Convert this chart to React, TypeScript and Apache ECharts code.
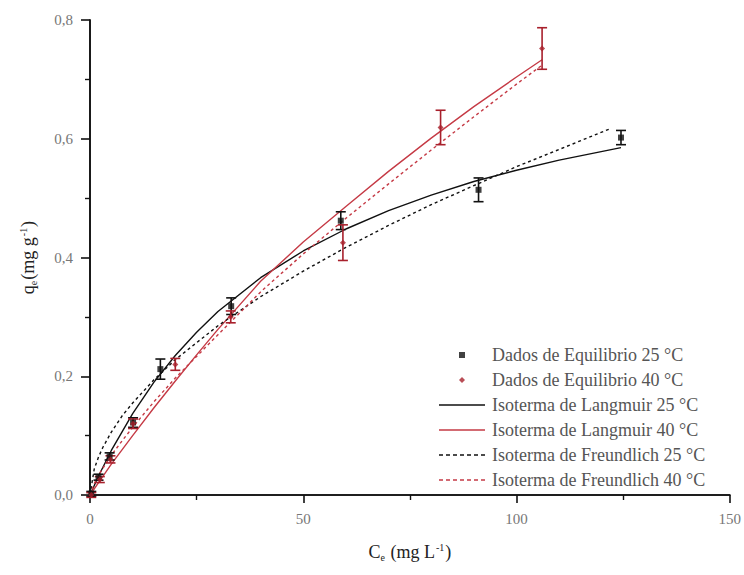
import React, { useEffect, useRef } from "react";
import * as echarts from "echarts";

const DATA_25_X = [0.3, 2, 4.6, 10.1, 16.5, 33.1, 58.8, 91.1, 124.5];
const DATA_25_Y = [0.002, 0.03, 0.065, 0.122, 0.212, 0.318, 0.462, 0.514, 0.602];
const ERR_25 = [0.004, 0.005, 0.006, 0.008, 0.017, 0.014, 0.015, 0.02, 0.012];

const DATA_40_X = [0.3, 2.3, 4.8, 10.1, 20, 33, 59.3, 82.2, 106];
const DATA_40_Y = [0.0, 0.026, 0.06, 0.12, 0.22, 0.3, 0.425, 0.619, 0.752];
const ERR_40 = [0.004, 0.005, 0.006, 0.008, 0.01, 0.01, 0.03, 0.029, 0.035];

// Fitted isotherm curves
const LANGMUIR_25_X = [0, 2, 5, 10, 15, 20, 25, 30, 40, 50, 60, 70, 80, 90, 100, 110, 124.5];
const LANGMUIR_25_Y = [0, 0.032, 0.075, 0.137, 0.19, 0.235, 0.274, 0.309, 0.366, 0.411, 0.448, 0.479, 0.505, 0.528, 0.547, 0.564, 0.585];

const LANGMUIR_40_X = [0, 2, 5, 10, 15, 20, 25, 30, 40, 50, 60, 70, 80, 90, 100, 106];
const LANGMUIR_40_Y = [0, 0.021, 0.052, 0.1, 0.147, 0.192, 0.236, 0.279, 0.36, 0.426, 0.486, 0.545, 0.601, 0.654, 0.704, 0.733];

const FREUNDLICH_25_X = [0, 1, 2, 3, 5, 7.5, 10, 15, 20, 30, 40, 50, 60, 70, 80, 90, 100, 110, 122];
const FREUNDLICH_25_Y = [0, 0.044, 0.064, 0.08, 0.106, 0.133, 0.155, 0.194, 0.228, 0.285, 0.334, 0.377, 0.417, 0.454, 0.489, 0.521, 0.553, 0.582, 0.617];

const FREUNDLICH_40_X = [0, 1, 2, 3, 5, 7.5, 10, 15, 20, 30, 40, 50, 60, 70, 80, 90, 100, 106];
const FREUNDLICH_40_Y = [0, 0.019, 0.033, 0.045, 0.067, 0.091, 0.114, 0.157, 0.197, 0.27, 0.342, 0.406, 0.466, 0.524, 0.581, 0.637, 0.692, 0.724];

const SERIES_NAMES = [
  "Dados de Equilibrio 25 °C",
  "Dados de Equilibrio 40 °C",
  "Isoterma de Langmuir 25 °C",
  "Isoterma de Langmuir 40 °C",
  "Isoterma de Freundlich 25 °C",
  "Isoterma de Freundlich 40 °C",
];

const X_TICKS = [0, 50, 100, 150];
const Y_TICKS = [0, 0.2, 0.4, 0.6, 0.8];

const BLACK = "#111111";
const RED_LINE = "#c53a45";
const RED_MARK = "#a8202c";
const FONT = "'Liberation Serif', 'Times New Roman', serif";

// legend icons (46 x 6 boxes)
const ICON_SQUARE = "path://M0 0M46 6M20 0h6v6h-6z";
const ICON_DIAMOND = "path://M0 0M46 6M23 0L26 3L23 6L20 3Z";
const ICON_SOLID = "path://M0 0M46 6M0 2.3h46v1.4H0z";
const ICON_DASHED =
  "path://M0 0M46 6M0 2.3h4v1.4H0zM7 2.3h4v1.4H7zM14 2.3h4v1.4h-4zM21 2.3h4v1.4h-4zM28 2.3h4v1.4h-4zM35 2.3h4v1.4h-4zM42 2.3h4v1.4h-4z";
const LEGEND_ICONS = [ICON_SQUARE, ICON_DIAMOND, ICON_SOLID, ICON_SOLID, ICON_DASHED, ICON_DASHED];

const zip = (xs: number[], ys: number[]) => xs.map((x, i) => [x, ys[i]]);
const errData = (xs: number[], ys: number[], es: number[]) =>
  xs.map((x, i) => [x, ys[i] - es[i], ys[i] + es[i]]);

const errorBarSeries = (name: string, data: number[][], color: string) => ({
  name,
  type: "custom",
  data,
  z: 4,
  renderItem: (_params: any, api: any) => {
    const x = api.value(0);
    const lo = api.coord([x, api.value(1)]);
    const hi = api.coord([x, api.value(2)]);
    const w = 5;
    const style = { stroke: color, lineWidth: 1.6 };
    return {
      type: "group",
      children: [
        { type: "line", shape: { x1: hi[0], y1: hi[1], x2: lo[0], y2: lo[1] }, style },
        { type: "line", shape: { x1: hi[0] - w, y1: hi[1], x2: hi[0] + w, y2: hi[1] }, style },
        { type: "line", shape: { x1: lo[0] - w, y1: lo[1], x2: lo[0] + w, y2: lo[1] }, style },
      ],
    };
  },
});

const lineSeries = (name: string, xs: number[], ys: number[], color: string, type: any) => ({
  name,
  type: "line",
  data: zip(xs, ys),
  showSymbol: false,
  symbol: "none",
  z: 2,
  lineStyle: { color, width: 1.4, type },
  itemStyle: { color },
});

const richName = (base: string, sub: string, mid: string, sup: string, end: string) =>
  `{b|${base}}{sub|${sub}}{b|${mid}}{sup|${sup}}{b|${end}}`;

const nameRich = {
  b: { fontFamily: FONT, fontSize: 18, color: "#222", lineHeight: 24 },
  sub: { fontFamily: FONT, fontSize: 10, color: "#222", padding: [11, 1, 0, 0] },
  sup: { fontFamily: FONT, fontSize: 10, color: "#222", padding: [0, 1, 9, 1] },
};

export default function App() {
  const ref = useRef<HTMLDivElement>(null);

  useEffect(() => {
    if (!ref.current) return;
    const chart = echarts.init(ref.current, undefined, { renderer: "svg" });
    const axisLine = { show: true, lineStyle: { color: BLACK, width: 1.6 } };
    const option: any = {
      animation: false,
      backgroundColor: "#ffffff",
      grid: { left: 90, right: 11, top: 20, bottom: 80 },
      legend: {
        orient: "vertical",
        left: 434,
        top: 341,
        itemWidth: 46,
        itemHeight: 6,
        itemGap: 7,
        symbolKeepAspect: true,
        data: SERIES_NAMES.map((name, i) => ({ name, icon: LEGEND_ICONS[i] })),
        textStyle: { fontFamily: FONT, fontSize: 18, color: "#555", lineHeight: 16, padding: [0, 0, 0, 2] },
        selectedMode: false,
      },
      xAxis: [
        {
          type: "value",
          min: X_TICKS[0],
          max: X_TICKS[X_TICKS.length - 1],
          interval: 50,
          axisLine,
          axisTick: { show: true, length: 8, lineStyle: { color: BLACK, width: 1.6 } },
          minorTick: { show: true, splitNumber: 2, length: 5, lineStyle: { color: BLACK, width: 1.4 } },
          splitLine: { show: false },
          axisLabel: { fontFamily: FONT, fontSize: 15, color: "#777", margin: 16 },
          name: richName("C", "e", " (mg L", "-1", ")"),
          nameLocation: "middle",
          nameGap: 45,
          nameTextStyle: { rich: nameRich },
        },
        {
          type: "value",
          position: "top",
          min: X_TICKS[0],
          max: X_TICKS[X_TICKS.length - 1],
          axisLine,
          axisTick: { show: false },
          axisLabel: { show: false },
          splitLine: { show: false },
        },
      ],
      yAxis: [
        {
          type: "value",
          min: Y_TICKS[0],
          max: Y_TICKS[Y_TICKS.length - 1],
          interval: 0.2,
          axisLine,
          axisTick: { show: true, length: 9, lineStyle: { color: BLACK, width: 1.6 } },
          minorTick: { show: true, splitNumber: 2, length: 5, lineStyle: { color: BLACK, width: 1.4 } },
          splitLine: { show: false },
          axisLabel: {
            fontFamily: FONT,
            fontSize: 15,
            color: "#777",
            margin: 17,
            formatter: (v: number) => v.toFixed(1).replace(".", ","),
          },
          name: richName("q", "e", "(mg g", "-1", ")"),
          nameLocation: "middle",
          nameGap: 50,
          nameTextStyle: { rich: nameRich },
        },
        {
          type: "value",
          position: "right",
          min: Y_TICKS[0],
          max: Y_TICKS[Y_TICKS.length - 1],
          axisLine,
          axisTick: { show: false },
          axisLabel: { show: false },
          splitLine: { show: false },
        },
      ],
      series: [
        {
          name: SERIES_NAMES[0],
          type: "scatter",
          data: zip(DATA_25_X, DATA_25_Y),
          symbol: "rect",
          symbolSize: 6,
          itemStyle: { color: BLACK },
          z: 5,
        },
        {
          name: SERIES_NAMES[1],
          type: "scatter",
          data: zip(DATA_40_X, DATA_40_Y),
          symbol: "diamond",
          symbolSize: 6,
          itemStyle: { color: RED_MARK },
          z: 5,
        },
        lineSeries(SERIES_NAMES[2], LANGMUIR_25_X, LANGMUIR_25_Y, BLACK, "solid"),
        lineSeries(SERIES_NAMES[3], LANGMUIR_40_X, LANGMUIR_40_Y, RED_LINE, "solid"),
        lineSeries(SERIES_NAMES[4], FREUNDLICH_25_X, FREUNDLICH_25_Y, BLACK, [3, 3]),
        lineSeries(SERIES_NAMES[5], FREUNDLICH_40_X, FREUNDLICH_40_Y, RED_LINE, [3, 3]),
        errorBarSeries("err25", errData(DATA_25_X, DATA_25_Y, ERR_25), BLACK),
        errorBarSeries("err40", errData(DATA_40_X, DATA_40_Y, ERR_40), RED_MARK),
      ],
    };
    chart.setOption(option);
    return () => chart.dispose();
  }, []);

  return <div ref={ref} style={{ width: 744, height: 575, position: "absolute", left: 0, top: 0 }} />;
}
